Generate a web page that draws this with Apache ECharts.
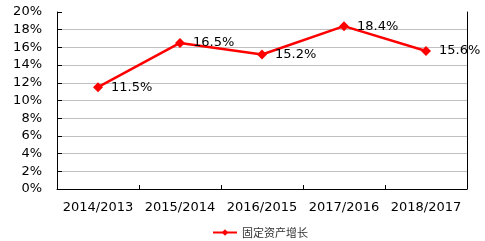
<!DOCTYPE html>
<html>
<head>
<meta charset="utf-8">
<script src="https://cdn.jsdelivr.net/npm/echarts@6/dist/echarts.min.js"></script>
<style>html,body{margin:0;padding:0;background:#fff}#c{width:485px;height:241px}</style>
</head>
<body>
<div id="c"></div>
<script>
var categories = ['2014/2013', '2015/2014', '2016/2015', '2017/2016', '2018/2017'];
var values = [11.5, 16.5, 15.2, 18.4, 15.6];
var seriesName = '固定资产增长';
var yMin = 0, yMax = 20, yStep = 2;

var chart = echarts.init(document.getElementById('c'), null, {renderer: 'canvas'});
var font = '"DejaVu Sans", Verdana, sans-serif';
chart.setOption({
  animation: false,
  backgroundColor: '#fff',
  grid: {left: 57, right: 18, top: 12, bottom: 52},
  legend: {
    data: [seriesName],
    left: 207, top: 222,
    itemWidth: 24, itemHeight: 8,
    textStyle: {fontFamily: '"Noto Sans CJK SC", sans-serif', fontSize: 11, color: '#333'}
  },
  xAxis: {
    type: 'category',
    data: categories,
    boundaryGap: true,
    axisLine: {lineStyle: {color: '#000', width: 1}},
    axisTick: {show: true, inside: true, length: 4, lineStyle: {color: '#000'}},
    axisLabel: {interval: 0, fontFamily: font, fontSize: 13, color: '#000', margin: 12}
  },
  yAxis: [{
    type: 'value',
    min: yMin, max: yMax, interval: yStep,
    axisLine: {show: true, lineStyle: {color: '#000', width: 1}},
    axisTick: {show: true, inside: true, length: 5, lineStyle: {color: '#000'}},
    axisLabel: {fontFamily: font, fontSize: 13, color: '#000', margin: 15,
      formatter: function (v) { return v + '%'; }},
    splitLine: {show: true, showMaxLine: false, lineStyle: {color: '#c0c0c0', width: 1}}
  }, {
    type: 'value',
    position: 'right',
    min: yMin, max: yMax, interval: yStep,
    axisLine: {show: true, lineStyle: {color: '#000', width: 1}},
    axisTick: {show: false},
    axisLabel: {show: false},
    splitLine: {show: false}
  }],
  series: [{
    name: seriesName,
    type: 'line',
    yAxisIndex: 0,
    data: values,
    symbol: 'diamond',
    symbolSize: 10,
    lineStyle: {color: '#f00', width: 2.5},
    itemStyle: {color: '#f00'},
    label: {
      show: true, position: 'right', distance: 8,
      fontFamily: font, fontSize: 13, color: '#000',
      formatter: function (p) { return p.value.toFixed(1) + '%'; }
    }
  }]
});
</script>
</body>
</html>
